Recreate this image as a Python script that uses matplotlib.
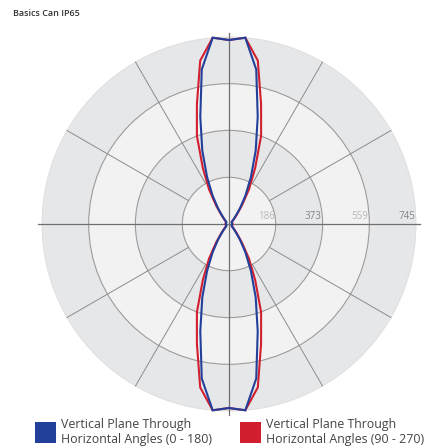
import numpy as np
import matplotlib
matplotlib.use("Agg")
import matplotlib.pyplot as plt
from matplotlib.patches import Circle

# candela values per gamma angle (0 = down, 180 = up)
gamma = list(range(0, 185, 5))
blue_cd = [733, 745, 625, 442, 311, 207, 131, 76, 40, 24, 16, 13, 12, 12, 12, 12, 12, 12, 12,
           12, 12, 12, 12, 12, 12, 13, 16, 24, 40, 76, 131, 207, 311, 442, 625, 745, 733]
red_cd = [733, 745, 661, 494, 374, 247, 159, 88, 48, 28, 18, 14, 14, 14, 14, 14, 14, 14, 14,
          14, 14, 14, 14, 14, 14, 14, 18, 28, 48, 88, 159, 247, 374, 494, 661, 745, 733]
rings = [186, 373, 559, 745]
ring_label_colors = ["#b8b8b8", "#858585", "#b8b8b8", "#858585"]
spokes = [30, 60, 120, 150, 210, 240, 300, 330]

title = "Basics Can IP65"
legend_labels = ["Vertical Plane Through\nHorizontal Angles (0 - 180)",
                 "Vertical Plane Through\nHorizontal Angles (90 - 270)"]
BLUE = "#22409a"; RED = "#d21f2f"
BAND_DARK = "#e6e7e9"; BAND_LIGHT = "#f2f2f3"

plt.rcParams["font.family"] = ["Open Sans", "DejaVu Sans"]

W, H = 432, 448
fig = plt.figure(figsize=(W / 100, H / 100), dpi=100)
cx, cy, rpx = 229, 224, 187
lim = 800
scale = rpx / rings[-1]
half = lim * scale
ax = fig.add_axes([(cx - half) / W, (H - cy - half) / H, 2 * half / W, 2 * half / H])
ax.set_xlim(-lim, lim); ax.set_ylim(-lim, lim)
ax.set_aspect("equal"); ax.axis("off")

# shaded bands
for i, r in enumerate(reversed(rings)):
    fc = BAND_DARK if i % 2 == 0 else BAND_LIGHT
    ax.add_patch(Circle((0, 0), r, facecolor=fc, edgecolor="none", zorder=1))
for r in rings[:-1]:
    ax.add_patch(Circle((0, 0), r, facecolor="none", edgecolor="#9c9c9c", lw=0.8, zorder=2))
ax.add_patch(Circle((0, 0), rings[-1], facecolor="none", edgecolor="#dcdcdc", lw=0.6, zorder=2))

for a in spokes:
    t = np.deg2rad(a)
    ax.plot([rings[0] * np.cos(t), rings[-1] * np.cos(t)],
            [rings[0] * np.sin(t), rings[-1] * np.sin(t)], color="#8c8c8c", lw=0.7, zorder=2)
ext = 762
ax.plot([-ext, ext], [0, 0], color="#6f6f6f", lw=0.9, zorder=3)
ax.plot([0, 0], [-ext, ext], color="#6f6f6f", lw=0.9, zorder=3)

for r, c in zip(rings, ring_label_colors):
    ax.text(r - 3, 6, str(r), color=c, fontsize=7, ha="right", va="bottom", zorder=4)

def curve(vals):
    g = np.deg2rad(np.array(gamma + [360 - a for a in reversed(gamma[:-1])], dtype=float))
    v = np.array(vals + list(reversed(vals[:-1])), dtype=float)
    return v * np.sin(g), -v * np.cos(g)

for vals, col in ((red_cd, RED), (blue_cd, BLUE)):
    x, y = curve(vals)
    ax.plot(x, y, color=col, lw=1.5, zorder=5, solid_joinstyle="miter")

fig.text(13 / W, 1 - 14 / H, title, fontsize=6.5, fontweight="semibold", color="#333333",
         va="center", ha="left")

# legend
for (x0, col, lab) in ((35, BLUE, legend_labels[0]), (240, RED, legend_labels[1])):
    fig.patches.append(plt.Rectangle((x0 / W, 1 - 443 / H), 21 / W, 21 / H,
                                     transform=fig.transFigure, facecolor=col, edgecolor="none"))
    fig.text((x0 + 26) / W, 1 - 431.5 / H, lab, fontsize=8.9, color="#444444",
             va="center", ha="left", linespacing=1.2)

fig.savefig("out.png", dpi=100)
